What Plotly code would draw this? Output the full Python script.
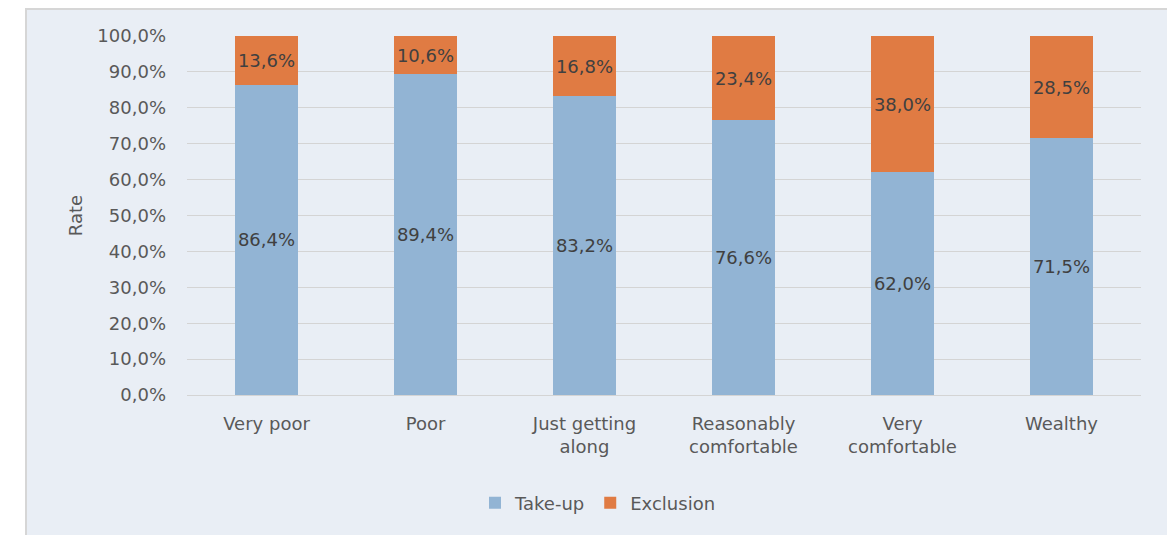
import plotly.graph_objects as go

categories = ["Very poor", "Poor", "Just getting<br>along", "Reasonably<br>comfortable", "Very<br>comfortable", "Wealthy"]
take_up = [0.864, 0.894, 0.832, 0.766, 0.620, 0.715]
exclusion = [0.136, 0.106, 0.168, 0.234, 0.380, 0.285]
y_ticks = [i / 10 for i in range(11)]

BLUE = "#92B4D4"
ORANGE = "#E07B43"
BG = "#E9EEF5"
TXT = "#404040"
AX = "#595959"
FONT = "DejaVu Sans"
FS = 18

def fmt(v):
    return f"{v*100:.1f}%".replace(".", ",")

W, H = 1167, 535
L, T = 187, 36
pw, ph = 954, 359
R = W - L - pw
B = H - T - ph

def px_x(p):
    return (p - L) / pw

def px_y(p):
    return (T + ph - p) / ph

fig = go.Figure()
fig.add_trace(go.Bar(
    x=categories, y=take_up, name="Take-up", marker=dict(color=BLUE, line=dict(width=0)),
    text=[fmt(v) for v in take_up], textposition="inside", insidetextanchor="middle",
    constraintext="none", textangle=0,
    textfont=dict(color=TXT, size=FS, family=FONT),
))
fig.add_trace(go.Bar(
    x=categories, y=exclusion, name="Exclusion", marker=dict(color=ORANGE, line=dict(width=0)),
    text=[fmt(v) for v in exclusion], textposition="inside", insidetextanchor="middle",
    constraintext="none", textangle=0,
    textfont=dict(color=TXT, size=FS, family=FONT),
))

fig.add_shape(type="rect", xref="paper", yref="paper",
              x0=px_x(26), x1=px_x(1220), y0=px_y(620), y1=px_y(9),
              fillcolor=BG, line=dict(color="#D6D6D6", width=2), layer="below")

fig.update_layout(
    width=W, height=H,
    barmode="stack", bargap=0.6,
    separators=", ",
    paper_bgcolor="white", plot_bgcolor=BG,
    margin=dict(l=L, r=R, t=T, b=B, autoexpand=False),
    font=dict(family=FONT, color=TXT, size=FS),
    showlegend=True,
    legend=dict(orientation="h", x=px_x(598), xanchor="center", y=px_y(503), yanchor="middle",
                font=dict(size=FS, color=AX, family=FONT), bgcolor="rgba(0,0,0,0)", itemwidth=30,
                traceorder="normal"),
)
fig.update_yaxes(
    range=[0, 1], tickvals=y_ticks, tickformat=".1%",
    showgrid=True, gridcolor="#D4D4D4", gridwidth=1,
    zeroline=True, zerolinecolor="#D4D4D4", zerolinewidth=1,
    showline=False, ticks="", ticklen=0, ticklabelstandoff=20,
    tickfont=dict(size=FS, color=AX),
    title=dict(text="Rate", font=dict(size=FS, color=AX), standoff=10),
)
fig.update_xaxes(
    showgrid=False, showline=False, ticks="", ticklabelstandoff=16,
    tickfont=dict(size=FS, color=AX),
)

fig.write_html(
    "out.html",
    config={"displayModeBar": False},
    post_script="document.body.style.margin='0';document.body.style.overflow='hidden';",
)
